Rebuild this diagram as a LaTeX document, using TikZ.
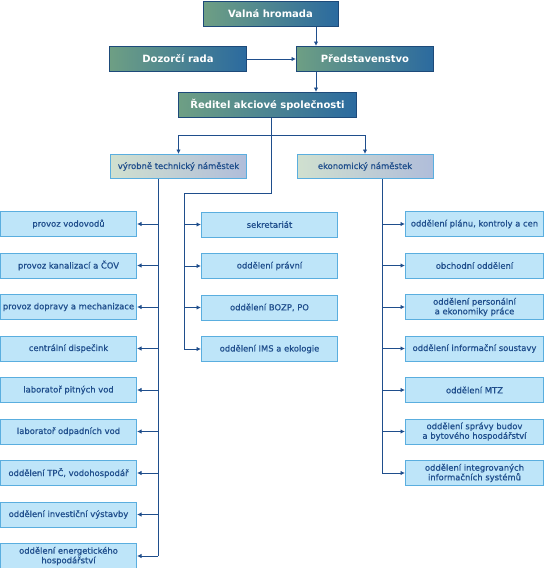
\documentclass[tikz,border=0pt]{standalone}
\usepackage{fontspec}
\setmainfont{DejaVu Sans}
\newfontfamily\popis[FakeBold=0.7]{DejaVu Sans}
\usetikzlibrary{arrows.meta}
\definecolor{modr}{HTML}{1F4E8C}
\definecolor{zel}{HTML}{6E9F84}
\definecolor{tmodr}{HTML}{2B6A9F}
\definecolor{rmodr}{HTML}{1D4A7A}
\definecolor{svzel}{HTML}{D0E0CF}
\definecolor{svfial}{HTML}{B0BDDA}
\definecolor{ramec}{HTML}{5AAEDF}
\definecolor{odbfill}{HTML}{BEE5F9}
\tikzset{
  vedeni/.style={draw=rmodr,line width=1pt,left color=zel,right color=tmodr,text=white,
    font=\bfseries\fontsize{10}{12}\selectfont,minimum height=25pt,inner sep=0pt},
  namest/.style={draw=ramec,line width=1pt,left color=svzel,right color=svfial,text=modr,
    font=\popis\fontsize{8.4}{10}\selectfont,minimum width=136pt,minimum height=24pt,inner sep=0pt},
  odbor/.style={draw=ramec,line width=1pt,fill=odbfill,text=modr,align=center,
    font=\popis\fontsize{8.4}{9.6}\selectfont,minimum height=25pt,inner sep=0pt},
  spoj/.style={modr,line width=1pt},
  sip/.style={spoj,-{Latex[length=4.5pt,width=4.5pt]}},
}

\begin{document}
\begin{tikzpicture}[x=1pt,y=-1pt]
  \useasboundingbox (0,0) rectangle (544,568);
  % vedeni spolecnosti
  \node[vedeni,minimum width=135pt] (valna) at (270.5,14) {Valná hromada};
  \node[vedeni,minimum width=137pt] (dozor) at (178,59) {Dozorčí rada};
  \node[vedeni,minimum width=137pt] (predst) at (365,59) {Představenstvo};
  \node[vedeni,minimum width=178pt] (reditel) at (267.5,105) {Ředitel akciové společnosti};
  \node[namest] (vtn) at (178.5,166.5) {výrobně technický náměstek};
  \node[namest] (ekon) at (365,166.5) {ekonomický náměstek};
  % useky
  \foreach \t [count=\i] in {provoz vodovodů, provoz kanalizací a ČOV, provoz dopravy a mechanizace,
      centrální dispečink, laboratoř pitných vod, laboratoř odpadních vod,
      {oddělení TPČ, vodohospodář}, oddělení investiční výstavby,
      oddělení energetického\\hospodářství}
    \node[odbor,minimum width=136pt] (l\i) at (68.5,224+41.5*\i-41.5) {\t};
  \foreach \t [count=\i] in {sekretariát, oddělení právní, {oddělení BOZP, PO},
      oddělení IMS a ekologie}
    \node[odbor,minimum width=136pt] (m\i) at (269.5,224.5+41.5*\i-41.5) {\t};
  \foreach \t [count=\i] in {{oddělení plánu, kontroly a cen}, obchodní oddělení,
      oddělení personální\\a ekonomiky práce, oddělení informační soustavy, oddělení MTZ,
      oddělení správy budov\\a bytového hospodářství,
      oddělení integrovaných\\informačních systémů}
    \node[odbor,minimum width=138pt] (r\i) at (474.5,224+41.5*\i-41.5) {\t};
  % spoje
  \coordinate (kmen) at (316,0);
  \coordinate (rozc) at (271,135);
  \coordinate (stab) at (184,193);
  \coordinate (lv) at (158,0);
  \coordinate (pv) at (382,0);
  \draw[sip] (valna.south -| kmen) -- (predst.north -| kmen);
  \draw[sip] (dozor) -- (predst);
  \draw[sip] (predst.south -| kmen) -- (reditel.north -| kmen);
  \draw[spoj] (reditel.south -| rozc) -- (rozc);
  \draw[sip] (rozc) -| (vtn.north);
  \draw[sip] (rozc) -| (ekon.north);
  \draw[spoj] (rozc) |- (stab) -- (stab |- m4);
  \foreach \i in {1,...,4} \draw[sip] (stab |- m\i) -- (m\i.west);
  \draw[spoj] (vtn.south -| lv) -- (lv |- l9);
  \foreach \i in {1,...,9} \draw[sip] (lv |- l\i) -- (l\i.east);
  \draw[spoj] (ekon.south -| pv) -- (pv |- r7);
  \foreach \i in {1,...,7} \draw[sip] (pv |- r\i) -- (r\i.west);
\end{tikzpicture}
\end{document}
